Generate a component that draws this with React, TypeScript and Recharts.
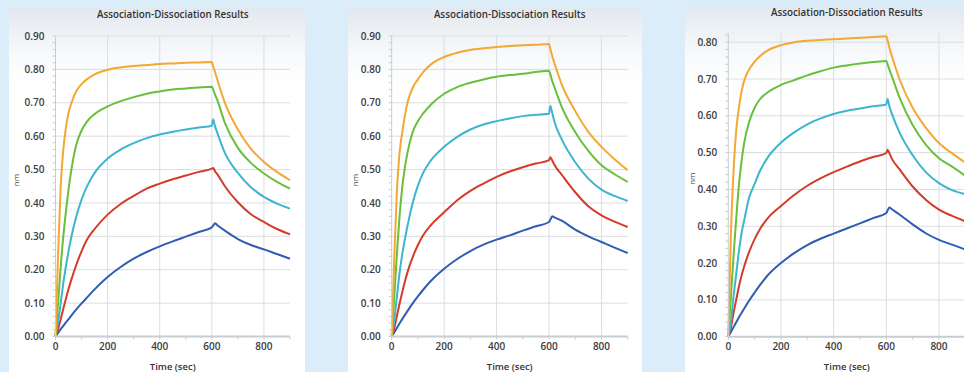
import React from 'react';
import { LineChart, Line, XAxis, YAxis, CartesianGrid } from 'recharts';

// time points (sec)
const TIME = [0, 10, 20, 30, 40, 50, 60, 80, 100, 120, 150, 200, 250, 300, 350, 400, 450, 500, 550, 600, 605, 612, 620, 650, 700, 750, 800, 850, 900];

// Panel 1 series (nm)
const P1_ORANGE = [0, 0.25, 0.45, 0.56, 0.625, 0.67, 0.697, 0.735, 0.756, 0.77, 0.785, 0.799, 0.806, 0.81, 0.813, 0.816, 0.818, 0.82, 0.821, 0.822, 0.81, 0.793, 0.772, 0.7, 0.62, 0.562, 0.523, 0.493, 0.468];
const P1_GREEN = [0, 0.1, 0.21, 0.3, 0.375, 0.44, 0.495, 0.575, 0.617, 0.643, 0.666, 0.689, 0.705, 0.717, 0.727, 0.734, 0.74, 0.743, 0.746, 0.748, 0.74, 0.725, 0.71, 0.64, 0.565, 0.52, 0.488, 0.463, 0.443];
const P1_CYAN = [0, 0.045, 0.1, 0.16, 0.21, 0.255, 0.295, 0.36, 0.41, 0.448, 0.49, 0.533, 0.56, 0.579, 0.594, 0.605, 0.613, 0.62, 0.626, 0.631, 0.651, 0.63, 0.612, 0.55, 0.49, 0.447, 0.418, 0.398, 0.383];
const P1_RED = [0, 0.022, 0.052, 0.083, 0.113, 0.142, 0.168, 0.215, 0.255, 0.289, 0.322, 0.365, 0.397, 0.421, 0.443, 0.458, 0.471, 0.482, 0.493, 0.503, 0.505, 0.495, 0.487, 0.45, 0.402, 0.366, 0.343, 0.322, 0.306];
const P1_BLUE = [0, 0.011, 0.022, 0.032, 0.042, 0.052, 0.062, 0.081, 0.099, 0.116, 0.141, 0.178, 0.208, 0.233, 0.253, 0.27, 0.285, 0.299, 0.313, 0.327, 0.332, 0.339, 0.334, 0.317, 0.292, 0.274, 0.261, 0.247, 0.233];

// Panel 2 series (nm)
const P2_ORANGE = [0, 0.24, 0.44, 0.55, 0.61, 0.66, 0.7, 0.745, 0.77, 0.792, 0.815, 0.837, 0.85, 0.858, 0.863, 0.867, 0.87, 0.872, 0.874, 0.876, 0.862, 0.84, 0.82, 0.752, 0.675, 0.613, 0.568, 0.531, 0.498];
const P2_GREEN = [0, 0.12, 0.25, 0.36, 0.445, 0.505, 0.55, 0.612, 0.645, 0.668, 0.695, 0.727, 0.747, 0.76, 0.77, 0.778, 0.783, 0.787, 0.792, 0.796, 0.785, 0.765, 0.748, 0.685, 0.612, 0.556, 0.513, 0.486, 0.463];
const P2_CYAN = [0, 0.05, 0.12, 0.19, 0.245, 0.29, 0.33, 0.4, 0.452, 0.49, 0.528, 0.568, 0.598, 0.62, 0.635, 0.645, 0.653, 0.66, 0.664, 0.667, 0.69, 0.67, 0.645, 0.588, 0.522, 0.473, 0.44, 0.421, 0.406];
const P2_RED = [0, 0.025, 0.062, 0.098, 0.132, 0.163, 0.192, 0.238, 0.274, 0.303, 0.334, 0.372, 0.408, 0.436, 0.458, 0.478, 0.494, 0.507, 0.518, 0.528, 0.537, 0.528, 0.515, 0.483, 0.432, 0.39, 0.363, 0.344, 0.328];
const P2_BLUE = [0, 0.013, 0.026, 0.039, 0.052, 0.064, 0.076, 0.099, 0.12, 0.14, 0.167, 0.203, 0.232, 0.256, 0.275, 0.29, 0.303, 0.317, 0.33, 0.343, 0.35, 0.36, 0.357, 0.346, 0.32, 0.3, 0.283, 0.266, 0.25];

// Panel 3 series (nm)
const P3_ORANGE = [0, 0.28, 0.45, 0.56, 0.62, 0.665, 0.695, 0.727, 0.747, 0.762, 0.778, 0.792, 0.8, 0.804, 0.806, 0.808, 0.81, 0.812, 0.814, 0.816, 0.805, 0.785, 0.765, 0.7, 0.622, 0.568, 0.526, 0.498, 0.473];
const P3_GREEN = [0, 0.11, 0.22, 0.32, 0.41, 0.475, 0.525, 0.585, 0.622, 0.645, 0.664, 0.684, 0.697, 0.71, 0.721, 0.731, 0.737, 0.742, 0.746, 0.749, 0.74, 0.725, 0.71, 0.65, 0.575, 0.522, 0.485, 0.462, 0.437];
const P3_CYAN = [0, 0.04, 0.11, 0.17, 0.23, 0.28, 0.315, 0.38, 0.415, 0.45, 0.487, 0.527, 0.555, 0.577, 0.593, 0.605, 0.614, 0.62, 0.626, 0.631, 0.646, 0.625, 0.608, 0.555, 0.493, 0.447, 0.417, 0.398, 0.387];
const P3_RED = [0, 0.025, 0.065, 0.1, 0.135, 0.165, 0.19, 0.232, 0.265, 0.292, 0.322, 0.355, 0.385, 0.41, 0.43, 0.447, 0.462, 0.476, 0.488, 0.499, 0.508, 0.498, 0.485, 0.455, 0.408, 0.372, 0.345, 0.328, 0.313];
const P3_BLUE = [0, 0.013, 0.026, 0.039, 0.052, 0.064, 0.076, 0.099, 0.12, 0.14, 0.167, 0.2, 0.227, 0.249, 0.266, 0.28, 0.294, 0.308, 0.322, 0.336, 0.343, 0.351, 0.347, 0.332, 0.305, 0.281, 0.263, 0.25, 0.237];

// axis ticks
const X_TICKS = [0, 100, 200, 300, 400, 500, 600, 700, 800, 900];
const X_LABELS = [0, 200, 400, 600, 800];
const Y_LABELS_09 = [0, 0.1, 0.2, 0.3, 0.4, 0.5, 0.6, 0.7, 0.8, 0.9];
const Y_LABELS_08 = [0, 0.1, 0.2, 0.3, 0.4, 0.5, 0.6, 0.7, 0.8];

const TITLE = 'Association-Dissociation Results';
const X_TITLE = 'Time (sec)';
const Y_TITLE = 'nm';

const COLORS = { blue: '#2f5db3', red: '#d53b29', cyan: '#3db5cf', green: '#69bf3c', orange: '#f4a832' };
const FONT = '"Open Sans", "Noto Sans", sans-serif';

const minorTicks = (max: number) => {
  const out: number[] = [];
  for (let k = 0; k * 0.02 <= max + 1e-9; k++) out.push(Math.round(k * 2) / 100);
  return out;
};

const buildRows = (o: number[], g: number[], c: number[], r: number[], b: number[]) =>
  TIME.map((t, i) => ({ t, orange: o[i], green: g[i], cyan: c[i], red: r[i], blue: b[i] }));

const isMajorY = (v: number) => Math.abs(v * 10 - Math.round(v * 10)) < 1e-6;

const YTick = (props: any) => {
  const { x, y, payload } = props;
  const v = payload.value as number;
  if (!isMajorY(v)) return <g />;
  return (
    <text x={x} y={y} dy={3.6} textAnchor="end" fill="#3c3c3c" fontSize={10} fontWeight={600} fontFamily={FONT}>
      {v.toFixed(2)}
    </text>
  );
};

const XTick = (props: any) => {
  const { x, y, payload } = props;
  const v = payload.value as number;
  if (!X_LABELS.includes(v)) return <g />;
  return (
    <text x={x} y={y} dy={8} textAnchor="middle" fill="#3c3c3c" fontSize={10} fontWeight={600} fontFamily={FONT}>
      {v}
    </text>
  );
};

type PanelProps = {
  rows: any[];
  left: number;
  top: number;
  width: number;
  height: number;
  marginTop: number;
  marginRight: number;
  yAxisWidth: number;
  xAxisHeight: number;
  yMax: number;
  yLabels: number[];
  titleTop: number;
};

const Panel = (p: PanelProps) => {
  const plotLeft = p.yAxisWidth;
  const plotWidth = p.width - p.yAxisWidth - p.marginRight;
  return (
    <div
      style={{
        position: 'absolute',
        left: p.left,
        top: p.top,
        width: p.width,
        height: p.height,
        background: 'linear-gradient(to bottom, #e2e8ee 0px, #f3f6f8 35px, #ffffff 75px)',
      }}
    >
      <div
        style={{
          position: 'absolute',
          left: plotLeft,
          width: plotWidth,
          top: p.titleTop,
          textAlign: 'center',
          fontFamily: FONT,
          fontSize: 9.8,
          fontWeight: 600,
          color: '#333',
          lineHeight: '12px',
          whiteSpace: 'nowrap',
        }}
      >
        {TITLE}
      </div>
      <LineChart
        width={p.width}
        height={p.height}
        data={p.rows}
        margin={{ top: p.marginTop, right: p.marginRight, bottom: 0, left: 0 }}
      >
        <CartesianGrid
          stroke="#dadde1"
          strokeWidth={1}
          horizontalValues={p.yLabels}
          verticalValues={[200, 400, 600, 800]}
        />
        <XAxis
          dataKey="t"
          type="number"
          domain={[0, 900]}
          ticks={X_TICKS}
          tick={XTick}
          tickSize={3}
          tickMargin={2}
          height={p.xAxisHeight}
          axisLine={{ stroke: '#c8cdd2', strokeWidth: 2 }}
          tickLine={{ stroke: '#c8cdd2' }}
          interval={0}
          label={{ value: X_TITLE, position: 'insideBottom', offset: 2, fill: '#333', fontSize: 9.5, fontWeight: 600, fontFamily: FONT }}
        />
        <YAxis
          type="number"
          domain={[0, p.yMax]}
          ticks={minorTicks(p.yMax)}
          tick={YTick}
          tickSize={3}
          tickMargin={8}
          width={p.yAxisWidth}
          axisLine={{ stroke: '#c8cdd2' }}
          tickLine={{ stroke: '#c8cdd2' }}
          interval={0}
          label={{ value: Y_TITLE, angle: -90, position: 'insideLeft', offset: 7, fill: '#444', fontSize: 8, fontFamily: FONT }}
        />
        <Line type="monotone" dataKey="blue" stroke={COLORS.blue} strokeWidth={2} dot={false} isAnimationActive={false} />
        <Line type="monotone" dataKey="red" stroke={COLORS.red} strokeWidth={2} dot={false} isAnimationActive={false} />
        <Line type="monotone" dataKey="cyan" stroke={COLORS.cyan} strokeWidth={2} dot={false} isAnimationActive={false} />
        <Line type="monotone" dataKey="green" stroke={COLORS.green} strokeWidth={2} dot={false} isAnimationActive={false} />
        <Line type="monotone" dataKey="orange" stroke={COLORS.orange} strokeWidth={2} dot={false} isAnimationActive={false} />
      </LineChart>
    </div>
  );
};

export default function App() {
  const rows1 = buildRows(P1_ORANGE, P1_GREEN, P1_CYAN, P1_RED, P1_BLUE);
  const rows2 = buildRows(P2_ORANGE, P2_GREEN, P2_CYAN, P2_RED, P2_BLUE);
  const rows3 = buildRows(P3_ORANGE, P3_GREEN, P3_CYAN, P3_RED, P3_BLUE);
  return (
    <div
      style={{
        position: 'fixed',
        left: 0,
        top: 0,
        width: 964,
        height: 372,
        overflow: 'hidden',
        background: '#dcedfa',
      }}
    >
      <Panel rows={rows1} left={9} top={8} width={296} height={364} marginTop={28} marginRight={15}
        yAxisWidth={46.5} xAxisHeight={35.5} yMax={0.9} yLabels={Y_LABELS_09} titleTop={1} />
      <Panel rows={rows2} left={348} top={8} width={294} height={364} marginTop={28} marginRight={14.3}
        yAxisWidth={43.7} xAxisHeight={35.5} yMax={0.9} yLabels={Y_LABELS_09} titleTop={1} />
      <Panel rows={rows3} left={685} top={7} width={300} height={365} marginTop={26} marginRight={19.7}
        yAxisWidth={43.3} xAxisHeight={35.3} yMax={0.825} yLabels={Y_LABELS_08} titleTop={0} />
    </div>
  );
}
